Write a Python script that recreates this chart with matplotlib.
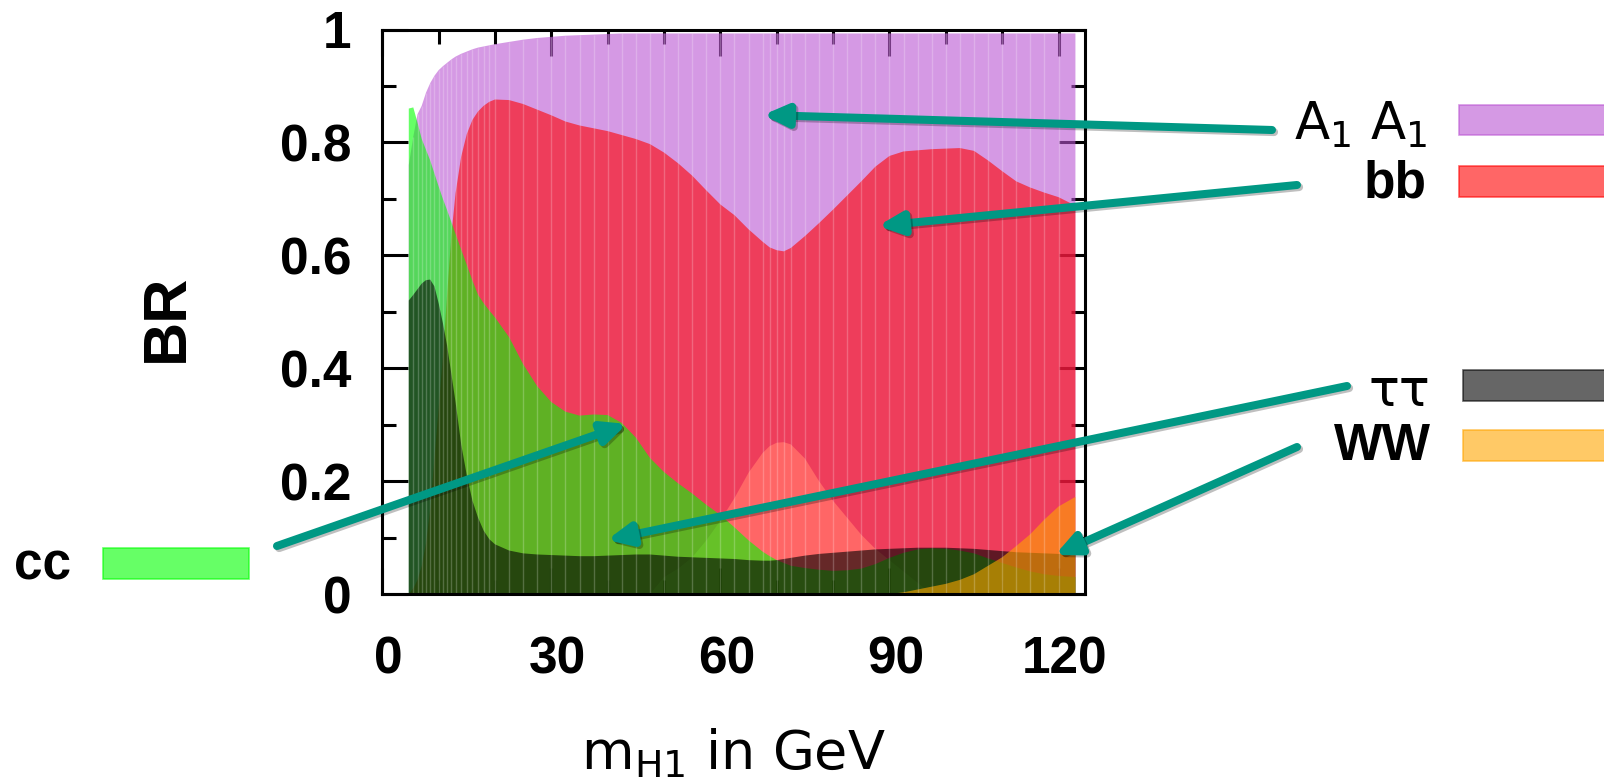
import matplotlib
matplotlib.use("Agg")
import matplotlib.pyplot as plt
import matplotlib.patheffects as pe
import matplotlib.transforms as mtransforms
from matplotlib.patches import FancyArrowPatch, Rectangle

# scan points (m_H1 in GeV) and the filled curves read at them
m = [4.7, 5.5, 6.25, 7, 7.75, 8.5, 9.25, 10, 10.75, 11.5, 12.25, 13, 14, 15, 16, 17, 18, 19, 20,
     22.5, 25, 27.5, 30, 32.5, 35, 37.5, 40, 42.5, 45, 47.5, 50, 52.5, 55, 57.5, 60, 62.5, 65,
     67.5, 68.75, 70, 71.25, 72.5,
     75, 77.5, 80, 82.5, 85, 87.5, 90, 92.5, 95, 97.5, 100, 102.5, 105, 107.5, 110,
     112.5, 115, 117.5, 120, 123]

a1a1 = [0.76, 0.81, 0.85, 0.865, 0.888, 0.905, 0.918, 0.928, 0.935, 0.941, 0.947, 0.952,
        0.957, 0.961, 0.965, 0.968, 0.97, 0.972, 0.974,
        0.978, 0.982, 0.985, 0.987, 0.989, 0.99, 0.991, 0.992, 0.993, 0.993, 0.993, 0.993,
        0.993, 0.993, 0.993, 0.993, 0.993, 0.993,
        0.993, 0.993, 0.993, 0.993, 0.993,
        0.993, 0.993, 0.993, 0.993, 0.993, 0.993, 0.993, 0.993, 0.993, 0.993, 0.993, 0.993,
        0.993, 0.993, 0.993, 0.993, 0.993, 0.993, 0.993, 0.993]
# lower edge of the A1 A1 band (open window around 70 GeV)
a1a1_low = [0, 0, 0, 0, 0, 0, 0, 0, 0, 0, 0, 0, 0, 0, 0, 0, 0, 0, 0,
            0, 0, 0, 0, 0, 0, 0, 0, 0, 0, 0, 0.03, 0.045, 0.065, 0.095, 0.13, 0.17, 0.215,
            0.25, 0.262, 0.268, 0.269, 0.265,
            0.24, 0.2, 0.165, 0.135, 0.105, 0.08, 0.06, 0.04, 0.02, 0, 0, 0, 0, 0, 0,
            0, 0, 0, 0, 0]
bb = [0.0, 0.01, 0.025, 0.05, 0.09, 0.15, 0.24, 0.33, 0.42, 0.53, 0.635, 0.71,
      0.775, 0.815, 0.84, 0.855, 0.865, 0.872, 0.876,
      0.875, 0.868, 0.858, 0.848, 0.837, 0.83, 0.825, 0.82, 0.813, 0.806, 0.797, 0.782,
      0.763, 0.741, 0.715, 0.69, 0.671, 0.646,
      0.624, 0.614, 0.609, 0.607, 0.613,
      0.634, 0.657, 0.681, 0.706, 0.731, 0.757, 0.776, 0.784, 0.786, 0.788, 0.789, 0.79,
      0.785, 0.768, 0.749, 0.731, 0.72, 0.711, 0.703, 0.688]
cc = [0.86, 0.862, 0.835, 0.806, 0.787, 0.768, 0.745, 0.722, 0.7, 0.68, 0.659, 0.638,
      0.61, 0.583, 0.555, 0.53, 0.515, 0.502, 0.49,
      0.455, 0.407, 0.368, 0.34, 0.323, 0.316, 0.318, 0.317, 0.303, 0.277, 0.241, 0.216,
      0.196, 0.178, 0.158, 0.14, 0.118, 0.095,
      0.075, 0.067, 0.06, 0.055, 0.05,
      0.046, 0.043, 0.041, 0.042, 0.045, 0.053, 0.064, 0.073, 0.079, 0.081, 0.08, 0.077,
      0.072, 0.063, 0.055, 0.047, 0.04, 0.035, 0.032, 0.03]
tautau = [0.52, 0.53, 0.54, 0.55, 0.556, 0.557, 0.545, 0.515, 0.48, 0.44, 0.39, 0.34,
          0.265, 0.21, 0.165, 0.135, 0.112, 0.097, 0.088,
          0.077, 0.072, 0.07, 0.069, 0.068, 0.067, 0.067, 0.068, 0.069, 0.07, 0.07, 0.068,
          0.066, 0.065, 0.064, 0.063, 0.062, 0.06,
          0.059, 0.059, 0.06, 0.062, 0.064,
          0.068, 0.071, 0.073, 0.075, 0.077, 0.079, 0.08, 0.081, 0.082, 0.082, 0.082, 0.081,
          0.08, 0.078, 0.076, 0.074, 0.073, 0.072, 0.071, 0.07]
ww = [0, 0, 0, 0, 0, 0, 0, 0, 0, 0, 0, 0, 0, 0, 0, 0, 0, 0, 0,
      0, 0, 0, 0, 0, 0, 0, 0, 0, 0, 0, 0, 0, 0, 0, 0, 0, 0,
      0, 0, 0, 0, 0,
      0, 0, 0, 0, 0, 0, 0.0, 0.003, 0.008, 0.013, 0.018, 0.025, 0.035, 0.05, 0.065,
      0.085, 0.106, 0.132, 0.155, 0.172]

xticks = [0, 30, 60, 90, 120]
yticks = [0, 0.2, 0.4, 0.6, 0.8, 1]
ytick_labels = ['0', '0.2', '0.4', '0.6', '0.8', '1']

plt.rcParams['font.family'] = ['Liberation Sans', 'DejaVu Sans']
plt.rcParams['mathtext.fontset'] = 'dejavusans'

W, H = 1604, 781
fig = plt.figure(figsize=(W / 100, H / 100), dpi=100)


def fx(x):
    return x / W


def fy(y):
    return 1 - y / H


ax = fig.add_axes([fx(382.3), fy(594), (1085 - 382.3) / W, (594 - 29.5) / H])

layers = [(a1a1_low, a1a1, 'mediumorchid'),
          (0, bb, 'red'),
          (0, cc, 'lime'),
          (0, tautau, 'black'),
          (0, ww, 'orange')]
for lo, hi, col in layers:
    ax.fill_between(m, lo, hi, facecolor=col, alpha=0.6, linewidth=0, zorder=1)

# faint seams between the filled slices at every scan point
ax.vlines(m[1:-1], 0, a1a1[1:-1], colors='white', alpha=0.22, linewidth=1.0, zorder=1.5)

ax.set_xlim(0, 124.7)
ax.set_ylim(0, 1)
ax.set_xticks(xticks)
ax.set_xticks([10, 20, 40, 50, 70, 80, 100, 110], minor=True)
ax.set_yticks(yticks)
ax.set_yticklabels(ytick_labels)
ax.set_yticks([0.1, 0.3, 0.5, 0.7, 0.9], minor=True)
ax.set_axisbelow(True)
ax.tick_params(which='both', direction='in', top=True, right=True, width=2.2, color='black')
ax.tick_params(which='major', length=19)
ax.tick_params(which='minor', length=10)
ax.tick_params(axis='x', which='major', pad=30, labelsize=37)
ax.tick_params(axis='y', which='major', pad=22, labelsize=37)
shift = mtransforms.ScaledTranslation(6 / 100, 0, fig.dpi_scale_trans)
for lab in ax.get_xticklabels():
    lab.set_fontweight('bold')
    lab.set_transform(lab.get_transform() + shift)
for lab in ax.get_yticklabels():
    lab.set_fontweight('bold')
for s in ax.spines.values():
    s.set_linewidth(2.2)

fig.text(fx(167), fy(318), 'BR', rotation=90, ha='center', va='center',
         fontsize=44, fontweight='bold')
fig.text(fx(733), fy(769), r'm$_{\mathrm{H1}}$ in GeV', ha='center', va='baseline',
         fontsize=39, family='DejaVu Sans')

# key entries: label text and swatch
keys = [(r'A$_1$ A$_1$', 'normal', 1428, 140, 1459, 105, 135, 'mediumorchid'),
        ('bb', 'bold', 1427, 197, 1459, 166, 197, 'red'),
        ('ττ', 'normal', 1430, 406, 1463, 370, 401, 'black'),
        ('WW', 'bold', 1431, 460, 1463, 430, 461, 'orange')]
for label, weight, tx, ty, px, py0, py1, col in keys:
    fam = 'DejaVu Sans' if weight == 'normal' else 'Liberation Sans'
    fig.text(fx(tx), fy(ty), label, ha='right', va='baseline', fontsize=37,
             fontweight=weight, family=fam)
    fig.add_artist(Rectangle((fx(px), fy(py1)), (1610 - px) / W, (py1 - py0) / H,
                             transform=fig.transFigure, facecolor=col, alpha=0.6,
                             edgecolor=col, linewidth=1.2))
fig.text(fx(14), fy(580), 'cc', ha='left', va='baseline', fontsize=37, fontweight='bold')
fig.add_artist(Rectangle((fx(103), fy(579)), (249 - 103) / W, 31 / H,
                         transform=fig.transFigure, facecolor='lime', alpha=0.6,
                         edgecolor='lime', linewidth=1.2))

# arrows from the key labels into the plot
arrows = [((1272, 130), (763, 115)),
          ((1297, 185), (878, 226)),
          ((1347, 386), (607, 540)),
          ((1297, 447), (1055, 555)),
          ((277, 546), (627, 424))]
for (x0, y0), (x1, y1) in arrows:
    a = FancyArrowPatch((fx(x0), fy(y0)), (fx(x1), fy(y1)), transform=fig.transFigure,
                        arrowstyle='-|>,head_length=14,head_width=6.5', mutation_scale=1,
                        color='#009884', lw=5.8, shrinkA=0, shrinkB=0, zorder=5,
                        path_effects=[pe.SimpleLineShadow(offset=(1.5, -1.5), alpha=0.25),
                                      pe.Normal()])
    fig.add_artist(a)

fig.savefig('out.png', dpi=100)
